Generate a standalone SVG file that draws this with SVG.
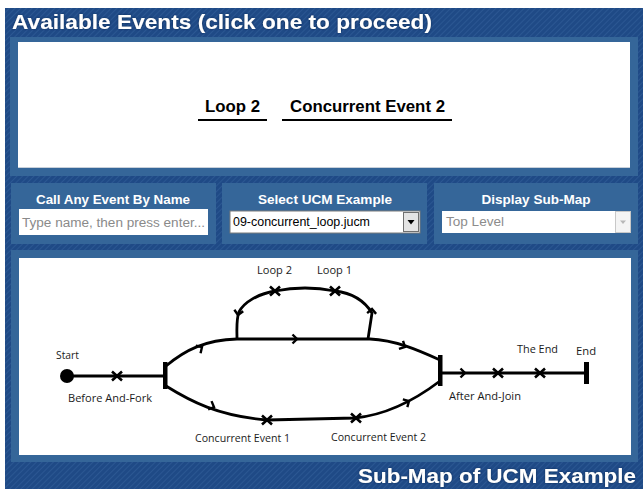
<svg xmlns="http://www.w3.org/2000/svg" width="643" height="489" viewBox="0 0 643 489">
  <defs>
    <pattern id="hatch" width="4" height="4" patternUnits="userSpaceOnUse" patternTransform="rotate(45)">
      <rect width="4" height="4" fill="#1f4a86"/>
      <rect width="1" height="4" fill="#2b5792"/>
    </pattern>
    <filter id="glow" x="-5%" y="-20%" width="110%" height="140%">
      <feGaussianBlur in="SourceAlpha" stdDeviation="0.8" result="b"/>
      <feFlood flood-color="#0b2247" flood-opacity="0.8"/>
      <feComposite in2="b" operator="in" result="s"/>
      <feMerge><feMergeNode in="s"/><feMergeNode in="SourceGraphic"/></feMerge>
    </filter>
    <path id="chev" d="M-4.5,-4.5 L0,0 L-4.5,4.5" fill="none" stroke="#000" stroke-width="2.4" stroke-linejoin="miter"/>
    <path id="cross" d="M-5,-4.5 L5,4.5 M-5,4.5 L5,-4.5" fill="none" stroke="#000" stroke-width="2.6"/>
  </defs>
  <style>
    .title { font-family: "Liberation Sans", Arial, sans-serif; font-weight: bold; font-size: 21px; fill: #fff; }
    .hdr { font-family: "Liberation Sans", Arial, sans-serif; font-weight: bold; font-size: 12.5px; fill: #fff; }
    .evt { font-family: "Liberation Sans", Arial, sans-serif; font-weight: bold; font-size: 16px; fill: #000; }
    .field { font-family: "Liberation Sans", Arial, sans-serif; font-size: 12px; }
    .lbl { font-family: "Open Sans", "DejaVu Sans", sans-serif; font-size: 10px; fill: #1a1a1a; }
    .frame { fill: #356699; }
    .path { fill: none; stroke: #000; stroke-width: 2.8; stroke-linejoin: round; }
  </style>

  <!-- page background -->
  <rect width="643" height="489" fill="#fff"/>
  <rect x="5" y="8" width="638" height="481" fill="url(#hatch)"/>

  <!-- Available events panel -->
  <g id="events-panel">
    <text class="title" x="12" y="29" textLength="420" lengthAdjust="spacingAndGlyphs" filter="url(#glow)">Available Events (click one to proceed)</text>
    <rect class="frame" x="10" y="37" width="628" height="139"/>
    <rect x="18" y="42" width="612" height="126" fill="#fff"/>
    <rect x="18" y="167" width="612" height="1" fill="#c8d0da"/>
    <g id="event-loop2">
      <text class="evt" x="205" y="112" textLength="55" lengthAdjust="spacingAndGlyphs">Loop 2</text>
      <rect x="198" y="119" width="69" height="2" fill="#000"/>
    </g>
    <g id="event-concurrent2">
      <text class="evt" x="290" y="112" textLength="155" lengthAdjust="spacingAndGlyphs">Concurrent Event 2</text>
      <rect x="282" y="119" width="170" height="2" fill="#000"/>
    </g>
  </g>

  <!-- Call event by name -->
  <g id="call-panel">
    <rect class="frame" x="11" y="183" width="205" height="61"/>
    <text class="hdr" x="113" y="204" text-anchor="middle" textLength="154" lengthAdjust="spacingAndGlyphs">Call Any Event By Name</text>
    <rect x="19" y="209" width="189" height="26" fill="#fff"/>
    <text class="field" x="22" y="227" fill="#8a8a8a" textLength="183" lengthAdjust="spacingAndGlyphs">Type name, then press enter...</text>
  </g>

  <!-- Example selector -->
  <g id="select-panel">
    <rect class="frame" x="222" y="183" width="205" height="61"/>
    <text class="hdr" x="325" y="204" text-anchor="middle" textLength="134" lengthAdjust="spacingAndGlyphs">Select UCM Example</text>
    <rect x="230" y="211" width="190" height="22" fill="#fff" stroke="#7a7a7a" stroke-width="1"/>
    <text class="field" x="233" y="226" fill="#000" textLength="137" lengthAdjust="spacingAndGlyphs">09-concurrent_loop.jucm</text>
    <rect x="403.5" y="212.5" width="15" height="19" fill="#e4e4e4" stroke="#707070" stroke-width="1"/>
    <path d="M407.5,220 L414.5,220 L411,224.5 Z" fill="#000"/>
  </g>

  <!-- Sub-map selector -->
  <g id="submap-panel">
    <rect class="frame" x="434" y="183" width="204" height="61"/>
    <text class="hdr" x="536" y="204" text-anchor="middle" textLength="109" lengthAdjust="spacingAndGlyphs">Display Sub-Map</text>
    <rect x="442" y="211" width="189" height="22" fill="#fff"/>
    <text class="field" x="446" y="226" fill="#8c8c8c" textLength="58" lengthAdjust="spacingAndGlyphs">Top Level</text>
    <rect x="615.5" y="211.5" width="15" height="21" fill="#f4f4f4" stroke="#c8c8c8" stroke-width="1"/>
    <path d="M620,220.5 L626,220.5 L623,224 Z" fill="#b8b8b8"/>
  </g>

  <!-- Sub-map panel -->
  <g id="submap-view">
    <rect class="frame" x="11" y="250" width="627" height="212"/>
    <rect x="19" y="258" width="612" height="197" fill="#fff"/>
    <text class="title" x="636" y="483" text-anchor="end" textLength="278" lengthAdjust="spacingAndGlyphs" filter="url(#glow)">Sub-Map of UCM Example</text>
  </g>

  <!-- UCM paths -->
  <g id="connectors">
    <path class="path" d="M67,376 L165,376"/>
    <path class="path" d="M166,366 C185,350 205,340 237,339 L370,339 C395,340 418,350 440,360"/>
    <path class="path" d="M166,386 C190,401 218,416 267,420 L355,418 C385,415 415,400 440,381"/>
    <path class="path" d="M368,339 L372,313 C364,300 352,293 335,291 C315,287 295,287 275,291 C258,294 244,302 239,312 C236,320 237,330 237,339"/>
    <path class="path" d="M440,373 L586,373"/>
    <use href="#chev" transform="translate(202,347) rotate(-32)"/>
    <use href="#chev" transform="translate(297,339)"/>
    <use href="#chev" transform="translate(405,347) rotate(27)"/>
    <use href="#chev" transform="translate(214,407) rotate(22)"/>
    <use href="#chev" transform="translate(409,401) rotate(-30)"/>
    <use href="#chev" transform="translate(372,309) rotate(-85)"/>
    <use href="#chev" transform="translate(238,315) rotate(100)"/>
    <use href="#chev" transform="translate(465,373)"/>
  </g>

  <!-- UCM elements -->
  <g id="start">
    <circle cx="67" cy="376" r="7" fill="#000"/>
    <text class="lbl" x="56" y="359" textLength="23" lengthAdjust="spacingAndGlyphs">Start</text>
  </g>
  <g id="before-fork">
    <use href="#cross" x="117" y="376"/>
    <text class="lbl" x="68" y="402" textLength="84" lengthAdjust="spacingAndGlyphs">Before And-Fork</text>
  </g>
  <g id="and-fork">
    <rect x="163" y="362" width="4.5" height="27" fill="#000"/>
  </g>
  <g id="loop2">
    <use href="#cross" x="275" y="291"/>
    <text class="lbl" x="257" y="274" textLength="35" lengthAdjust="spacingAndGlyphs">Loop 2</text>
  </g>
  <g id="loop1">
    <use href="#cross" x="335" y="291"/>
    <text class="lbl" x="317" y="274" textLength="35" lengthAdjust="spacingAndGlyphs">Loop 1</text>
  </g>
  <g id="concurrent1">
    <use href="#cross" x="267" y="420"/>
    <text class="lbl" x="195" y="442" textLength="95" lengthAdjust="spacingAndGlyphs">Concurrent Event 1</text>
  </g>
  <g id="concurrent2">
    <use href="#cross" x="356" y="418"/>
    <text class="lbl" x="331" y="441" textLength="95" lengthAdjust="spacingAndGlyphs">Concurrent Event 2</text>
  </g>
  <g id="and-join">
    <rect x="438" y="355" width="4.5" height="31" fill="#000"/>
  </g>
  <g id="after-join">
    <use href="#cross" x="498" y="373"/>
    <text class="lbl" x="449" y="400" textLength="72" lengthAdjust="spacingAndGlyphs">After And-Join</text>
  </g>
  <g id="the-end">
    <use href="#cross" x="540" y="373"/>
    <text class="lbl" x="517" y="353" textLength="41" lengthAdjust="spacingAndGlyphs">The End</text>
  </g>
  <g id="end">
    <rect x="584" y="362" width="5" height="22" fill="#000"/>
    <text class="lbl" x="576" y="355" textLength="20" lengthAdjust="spacingAndGlyphs">End</text>
  </g>
</svg>
